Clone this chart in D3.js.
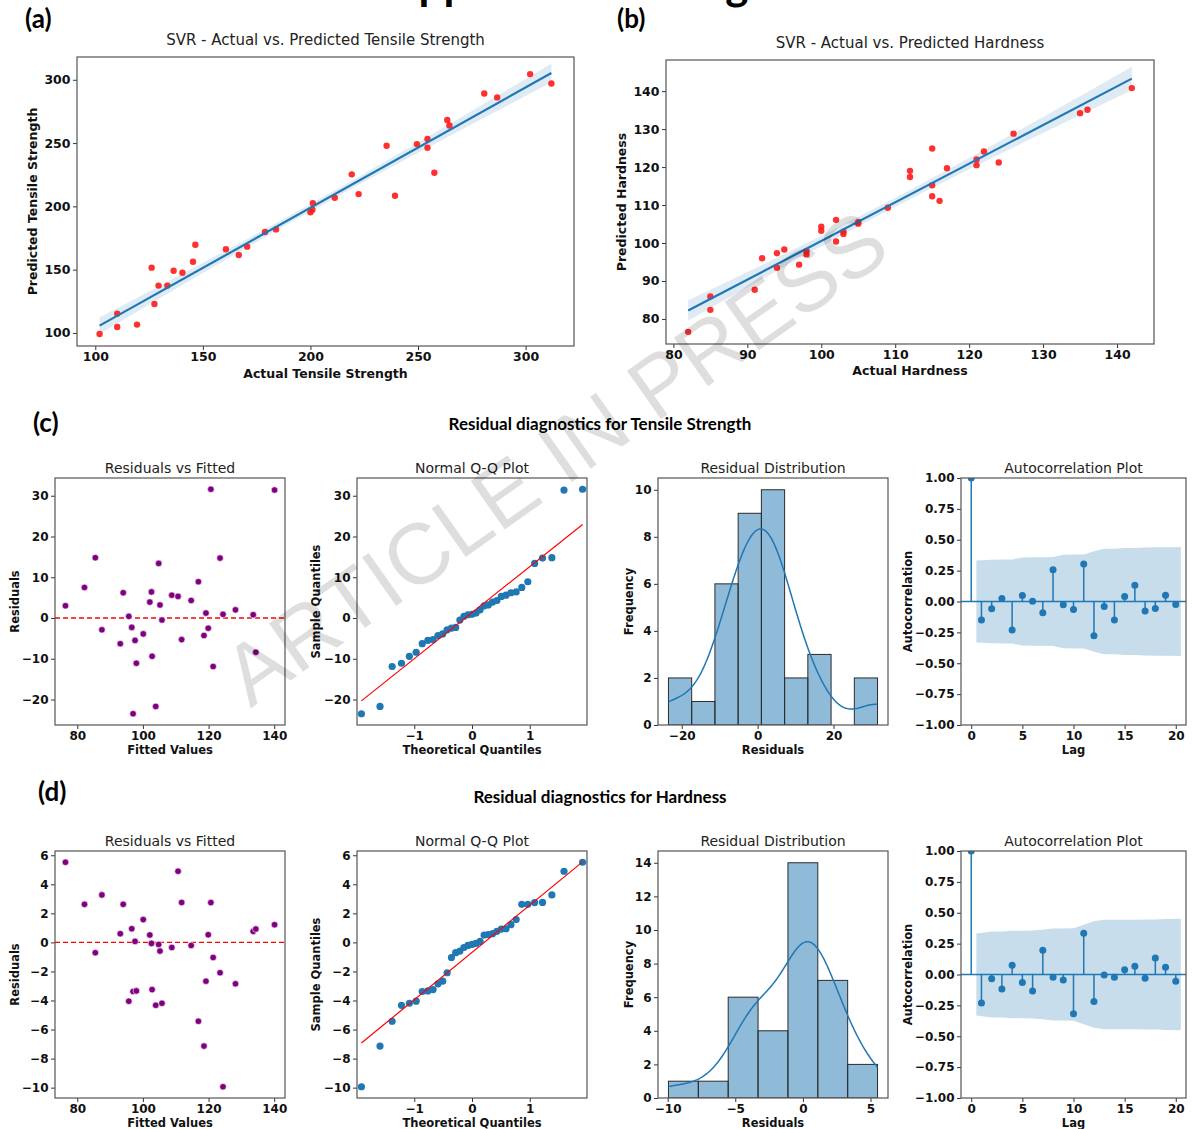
<!DOCTYPE html>
<html>
<head>
<meta charset="utf-8">
<script src="https://cdn.jsdelivr.net/npm/d3@7"></script>
<style>
  body { margin: 0; background: #fff; }
  svg { display: block; }
</style>
</head>
<body>
<svg id="fig" width="1192" height="1129"></svg>
<script>
// ---- data ----
// (a) tensile strength, actual vs predicted
const tensileActual = [102, 110.2, 110.2, 119.4, 126.2, 127.5, 129.4, 133.5, 136.4, 140.5, 145.4, 146.5, 160.7, 166.7, 170.6, 178.9, 184, 200, 200.9, 201.1, 211.3, 219.2, 222.4, 235.4, 239.3, 249.5, 254.4, 254.4, 257.6, 263.6, 264.6, 280.8, 286.8, 302.1, 312];
const tensilePred = [99.2, 115.3, 104.7, 106.6, 151.6, 122.9, 137.4, 137.4, 149.2, 147.6, 156.3, 169.7, 166.1, 161.6, 168.2, 179.7, 181.8, 195.3, 197.4, 202.6, 206.8, 225.3, 209.7, 247.9, 208.4, 249.2, 253.2, 246.3, 226.6, 268.2, 263.9, 289.2, 286.1, 304.5, 297.1];
const tensileFitX = [102, 312];
const tensileFitY = [105.8, 305.3];
const tensileBandX = [102, 125, 150, 175, 200, 225, 250, 275, 312];
const tensileBandHalf = [6.7, 5.2, 4.0, 3.2, 3.0, 3.2, 4.0, 5.2, 7.5];

// (b) hardness, actual vs predicted
const hardActual = [82, 85, 85, 91, 92, 94, 94, 95, 97, 98, 98, 100, 100, 102, 102, 103, 103, 105, 105, 109, 112, 112, 115, 115, 115, 116, 117, 121, 121, 122, 124, 126, 135, 136, 142];
const hardPred = [76.6, 85.9, 82.4, 87.7, 96.0, 97.3, 93.5, 98.3, 94.3, 97.9, 97.0, 104.3, 103.2, 106.1, 100.4, 103.0, 102.4, 105.5, 105.1, 109.3, 119.0, 117.4, 124.9, 115.2, 112.3, 111.1, 119.7, 122.0, 120.5, 124.1, 121.2, 128.8, 134.2, 135.1, 140.8];
const hardFitX = [82, 142];
const hardFitY = [82.2, 143.3];
const hardBandX = [82, 90, 100, 108, 120, 130, 142];
const hardBandHalf = [2.7, 2.0, 1.4, 1.2, 1.5, 2.1, 3.1];

// residual diagnostics (same fitted values on both rows)
const fittedVals = [76.4, 82.2, 85.5, 87.5, 93.1, 94.0, 95.7, 96.6, 97.0, 97.6, 98.0, 100.1, 102.1, 102.6, 102.8, 103.9, 104.8, 105.2, 105.8, 108.8, 110.7, 111.8, 114.7, 116.9, 118.6, 119.2, 119.9, 120.7, 121.4, 123.5, 124.4, 128.2, 133.6, 134.4, 140.1];
const residTensile = [3.0, 7.5, 14.8, -2.9, -6.3, 6.2, 0.4, -2.3, -23.5, -5.5, -11.1, -3.9, 3.9, 6.4, -9.4, -21.7, 13.4, 3.2, -0.5, 5.6, 5.3, -5.3, 4.3, 8.9, -4.3, 1.2, -2.5, 31.6, -11.9, 14.7, 0.9, 2.0, 0.8, -8.4, 31.4];
const residHard = [5.52, 2.62, -0.71, 3.27, 0.60, 2.62, -4.05, 0.94, -3.38, 0.07, -3.34, 1.57, 0.51, -0.07, -3.25, -4.33, -0.14, -0.60, -4.19, -0.35, 4.90, 2.75, -0.21, -5.43, -7.14, -2.67, 0.53, 2.74, -1.04, -2.09, -9.94, -2.85, 0.76, 0.92, 1.22];

// theoretical normal quantiles, n = 35
const qqTheory = [-1.915, -1.593, -1.383, -1.221, -1.085, -0.967, -0.862, -0.765, -0.674, -0.589, -0.508, -0.431, -0.356, -0.282, -0.210, -0.140, -0.070, 0, 0.070, 0.140, 0.210, 0.282, 0.356, 0.431, 0.508, 0.589, 0.674, 0.765, 0.862, 0.967, 1.085, 1.221, 1.383, 1.593, 1.915];

// histogram counts
const histTensile = [2, 1, 6, 9, 10, 2, 3, 0, 2];
const histHard = [1, 1, 6, 4, 14, 7, 2];

// autocorrelation, lags 0..20
const acfTensile = [1, -0.149, -0.059, 0.024, -0.23, 0.049, 0.003, -0.092, 0.257, -0.027, -0.065, 0.303, -0.278, -0.041, -0.149, 0.041, 0.132, -0.076, -0.057, 0.051, -0.024];
const acfHard = [1, -0.231, -0.034, -0.118, 0.074, -0.064, -0.134, 0.196, -0.023, -0.045, -0.318, 0.334, -0.218, -0.004, -0.023, 0.039, 0.066, -0.031, 0.134, 0.058, -0.055];

// tick values
const ticksA_x = [100, 150, 200, 250, 300], ticksA_y = [100, 150, 200, 250, 300];
const ticksB_x = [80, 90, 100, 110, 120, 130, 140], ticksB_y = [80, 90, 100, 110, 120, 130, 140];
const ticksFitted = [80, 100, 120, 140];
const ticksResT = [-20, -10, 0, 10, 20, 30];
const ticksResH = [-10, -8, -6, -4, -2, 0, 2, 4, 6];
const ticksQQx = [-1, 0, 1];
const ticksHistT_x = [-20, 0, 20], ticksHistT_y = [0, 2, 4, 6, 8, 10];
const ticksHistH_x = [-10, -5, 0, 5], ticksHistH_y = [0, 2, 4, 6, 8, 10, 12, 14];
const ticksLag = [0, 5, 10, 15, 20];
const ticksAcf = [-1, -0.75, -0.5, -0.25, 0, 0.25, 0.5, 0.75, 1];

// ---- drawing ----
const FONT = "'DejaVu Sans', sans-serif";
const HEAD = "Lato, 'Open Sans', sans-serif";
const C0 = "#1f77b4";
const svg = d3.select("#fig");
svg.append("rect").attr("width", 1192).attr("height", 1129).attr("fill", "#fff");

const pad = (ext, m) => [ext[0] - (ext[1] - ext[0]) * m, ext[1] + (ext[1] - ext[0]) * m];

let clipN = 0;
function panel(o) {
  const fs = o.fs || { tick: 12, label: 11.5, title: 14 };
  const g = svg.append("g").attr("transform", `translate(${o.left},${o.top})`);
  const x = d3.scaleLinear().domain(o.xd).range([0, o.w]);
  const y = d3.scaleLinear().domain(o.yd).range([o.h, 0]);
  const id = "clip" + (clipN++);
  g.append("clipPath").attr("id", id).append("rect").attr("width", o.w).attr("height", o.h);
  const plot = g.append("g").attr("clip-path", `url(#${id})`);

  const xa = g.append("g").attr("transform", `translate(0,${o.h})`)
    .call(d3.axisBottom(x).tickValues(o.xt).tickFormat(o.xf || d3.format("d"))
      .tickSize(4).tickPadding(2.5).tickSizeOuter(0));
  const ya = g.append("g")
    .call(d3.axisLeft(y).tickValues(o.yt).tickFormat(o.yf || d3.format("d"))
      .tickSize(4).tickPadding(2.5).tickSizeOuter(0));
  [xa, ya].forEach(a => {
    a.select(".domain").remove();
    a.selectAll(".tick line").attr("stroke", "#333");
    a.selectAll(".tick text")
      .attr("font-family", FONT).attr("font-weight", "bold")
      .attr("font-size", fs.tick).attr("fill", "#111");
  });

  g.append("rect").attr("width", o.w).attr("height", o.h)
    .attr("fill", "none").attr("stroke", "#555").attr("stroke-width", 1.2);

  g.append("text").attr("x", o.w / 2).attr("y", o.h + o.xlDy).attr("dy", "0.35em")
    .attr("text-anchor", "middle").attr("font-family", FONT).attr("font-weight", "bold")
    .attr("font-size", fs.label).attr("fill", "#111").text(o.xLabel);
  g.append("text").attr("transform", `translate(${-o.ylDx},${o.h / 2}) rotate(-90)`)
    .attr("dy", "0.35em").attr("text-anchor", "middle").attr("font-family", FONT)
    .attr("font-weight", "bold").attr("font-size", fs.label).attr("fill", "#111").text(o.yLabel);
  g.append("text").attr("x", o.w / 2).attr("y", -o.tDy).attr("dy", "0.35em")
    .attr("text-anchor", "middle").attr("font-family", FONT)
    .attr("font-size", fs.title).attr("fill", "#222").text(o.title);

  return { plot, x, y };
}

// regression scatter with fit line and band
function regPanel(o, ax, ay, fx, fy, bx, bh) {
  const p = panel(o);
  const lineAt = v => fy[0] + (fy[1] - fy[0]) * (v - fx[0]) / (fx[1] - fx[0]);
  const band = bx.map((v, i) => ({ v, lo: lineAt(v) - bh[i], hi: lineAt(v) + bh[i] }));
  p.plot.append("path").datum(band)
    .attr("d", d3.area().curve(d3.curveMonotoneX).x(d => p.x(d.v)).y0(d => p.y(d.lo)).y1(d => p.y(d.hi)))
    .attr("fill", C0).attr("fill-opacity", 0.15);
  p.plot.selectAll("circle").data(ax).join("circle")
    .attr("cx", d => p.x(d)).attr("cy", (d, i) => p.y(ay[i])).attr("r", 3.2)
    .attr("fill", "#ff1a1a").attr("fill-opacity", 0.9);
  p.plot.append("line")
    .attr("x1", p.x(fx[0])).attr("y1", p.y(fy[0])).attr("x2", p.x(fx[1])).attr("y2", p.y(fy[1]))
    .attr("stroke", C0).attr("stroke-width", 2.2);
}

const topFs = { tick: 12.5, label: 12.5, title: 15 };
regPanel({ left: 77, top: 57, w: 497, h: 289, xd: [91.5, 322.5], yd: [89.7, 318],
  xt: ticksA_x, yt: ticksA_y, fs: topFs, xlDy: 28, ylDx: 44, tDy: 17,
  title: "SVR - Actual vs. Predicted Tensile Strength", xLabel: "Actual Tensile Strength", yLabel: "Predicted Tensile Strength" },
  tensileActual, tensilePred, tensileFitX, tensileFitY, tensileBandX, tensileBandHalf);
regPanel({ left: 666, top: 60, w: 488, h: 284, xd: [79, 145], yd: [73.4, 148.2],
  xt: ticksB_x, yt: ticksB_y, fs: topFs, xlDy: 27, ylDx: 44, tDy: 17,
  title: "SVR - Actual vs. Predicted Hardness", xLabel: "Actual Hardness", yLabel: "Predicted Hardness" },
  hardActual, hardPred, hardFitX, hardFitY, hardBandX, hardBandHalf);

// one row of residual diagnostics
function diagRow(top, resid, resTicks, hist, hx, hy, acf) {
  const h = 247, w = 230;
  const yd = pad(d3.extent(resid), 0.05);

  // residuals vs fitted
  const p1 = panel({ left: 55, top, w, h, xd: pad(d3.extent(fittedVals), 0.05), yd,
    xt: ticksFitted, yt: resTicks, xlDy: 25, ylDx: 40, tDy: 10,
    title: "Residuals vs Fitted", xLabel: "Fitted Values", yLabel: "Residuals" });
  p1.plot.append("line").attr("x1", 0).attr("x2", w).attr("y1", p1.y(0)).attr("y2", p1.y(0))
    .attr("stroke", "#ff0000").attr("stroke-width", 1.3).attr("stroke-dasharray", "5,3");
  p1.plot.selectAll("circle").data(fittedVals).join("circle")
    .attr("cx", d => p1.x(d)).attr("cy", (d, i) => p1.y(resid[i])).attr("r", 3.3)
    .attr("fill", "#800080").attr("stroke", "#fff").attr("stroke-width", 0.6);

  // normal Q-Q
  const sorted = resid.slice().sort(d3.ascending);
  const n = resid.length;
  const mu = d3.mean(resid), sd = d3.deviation(resid) * Math.sqrt((n - 1) / n);
  const p2 = panel({ left: 357, top, w, h, xd: pad(d3.extent(qqTheory), 0.02), yd,
    xt: ticksQQx, yt: resTicks, xlDy: 25, ylDx: 41, tDy: 10,
    title: "Normal Q-Q Plot", xLabel: "Theoretical Quantiles", yLabel: "Sample Quantiles" });
  p2.plot.selectAll("circle").data(qqTheory).join("circle")
    .attr("cx", d => p2.x(d)).attr("cy", (d, i) => p2.y(sorted[i])).attr("r", 3.6).attr("fill", C0);
  const q0 = qqTheory[0], q1 = qqTheory[n - 1];
  p2.plot.append("line").attr("x1", p2.x(q0)).attr("y1", p2.y(mu + sd * q0))
    .attr("x2", p2.x(q1)).attr("y2", p2.y(mu + sd * q1))
    .attr("stroke", "#ff0000").attr("stroke-width", 1.2);

  // histogram + kde
  const ext = d3.extent(resid);
  const bw = (ext[1] - ext[0]) / hist.length;
  const bins = hist.map((c, i) => ({ c, x0: ext[0] + i * bw, x1: ext[0] + (i + 1) * bw })).filter(b => b.c > 0);
  const p3 = panel({ left: 658, top, w, h, xd: pad(ext, 0.05), yd: [0, d3.max(hist) * 1.05],
    xt: hx, yt: hy, xlDy: 25, ylDx: 29, tDy: 10,
    title: "Residual Distribution", xLabel: "Residuals", yLabel: "Frequency" });
  p3.plot.selectAll("rect").data(bins).join("rect")
    .attr("x", d => p3.x(d.x0)).attr("width", d => p3.x(d.x1) - p3.x(d.x0))
    .attr("y", d => p3.y(d.c)).attr("height", d => p3.y(0) - p3.y(d.c))
    .attr("fill", C0).attr("fill-opacity", 0.5).attr("stroke", "#2b2b2b").attr("stroke-width", 1);
  const kbw = Math.pow(n, -0.2) * d3.deviation(resid);
  const grid = d3.range(201).map(i => ext[0] + (ext[1] - ext[0]) * i / 200);
  const kde = grid.map(v => [v, d3.sum(resid, r => Math.exp(-0.5 * ((v - r) / kbw) ** 2)) / (kbw * Math.sqrt(2 * Math.PI)) * bw]);
  p3.plot.append("path").datum(kde)
    .attr("d", d3.line().x(d => p3.x(d[0])).y(d => p3.y(d[1])))
    .attr("fill", "none").attr("stroke", C0).attr("stroke-width", 1.5);

  // autocorrelation
  const p4 = panel({ left: 961, top, w: 225, h, xd: [-1, 21], yd: [-1, 1],
    xt: ticksLag, yt: ticksAcf, yf: d3.format(".2f"), xlDy: 25, ylDx: 53, tDy: 10,
    title: "Autocorrelation Plot", xLabel: "Lag", yLabel: "Autocorrelation" });
  let cum = 0;
  const conf = [];
  for (let k = 1; k < acf.length; k++) {
    const se = Math.sqrt((1 + 2 * cum) / n);
    conf.push({ lag: k === 1 ? 0.5 : (k === acf.length - 1 ? k + 0.5 : k), c: 1.96 * se });
    cum += acf[k] ** 2;
  }
  p4.plot.append("path").datum(conf)
    .attr("d", d3.area().x(d => p4.x(d.lag)).y0(d => p4.y(-d.c)).y1(d => p4.y(d.c)))
    .attr("fill", C0).attr("fill-opacity", 0.25);
  p4.plot.append("line").attr("x1", 0).attr("x2", 225).attr("y1", p4.y(0)).attr("y2", p4.y(0))
    .attr("stroke", C0).attr("stroke-width", 1.5);
  p4.plot.selectAll("line.stem").data(acf).join("line").attr("class", "stem")
    .attr("x1", (d, i) => p4.x(i)).attr("x2", (d, i) => p4.x(i))
    .attr("y1", p4.y(0)).attr("y2", d => p4.y(d))
    .attr("stroke", C0).attr("stroke-width", 1.5);
  p4.plot.selectAll("circle").data(acf).join("circle")
    .attr("cx", (d, i) => p4.x(i)).attr("cy", d => p4.y(d)).attr("r", 3.5).attr("fill", C0);
}

diagRow(478, residTensile, ticksResT, histTensile, ticksHistT_x, ticksHistT_y, acfTensile);
diagRow(851, residHard, ticksResH, histHard, ticksHistH_x, ticksHistH_y, acfHard);

// headings
const heads = [["(a)", 25, 28], ["(b)", 617, 28], ["(c)", 33, 432], ["(d)", 38, 801]];
svg.selectAll("text.head").data(heads).join("text").attr("class", "head")
  .attr("x", d => d[1]).attr("y", d => d[2]).text(d => d[0])
  .attr("font-family", HEAD).attr("font-weight", "bold").attr("font-size", 26).attr("fill", "#000");
const rowTitles = [["Residual diagnostics for Tensile Strength", 600, 430], ["Residual diagnostics for Hardness", 600, 803]];
svg.selectAll("text.rowt").data(rowTitles).join("text").attr("class", "rowt")
  .attr("x", d => d[1]).attr("y", d => d[2]).attr("text-anchor", "middle").text(d => d[0])
  .attr("font-family", HEAD).attr("font-weight", "bold").attr("font-size", 17).attr("fill", "#000");
// page heading, cut off at the top edge
svg.append("text").attr("x", 370).attr("y", 0).text("Support Vector Regression")
  .attr("font-family", HEAD).attr("font-weight", "bold").attr("font-size", 44).attr("fill", "#000");

// watermark
svg.append("text").attr("transform", "translate(572,482) rotate(-35.2)")
  .attr("text-anchor", "middle").text("ARTICLE IN PRESS")
  .attr("font-family", "'Liberation Sans', Arial, sans-serif").attr("font-size", 86)
  .attr("fill", "#000").attr("fill-opacity", 0.13);
</script>
</body>
</html>
